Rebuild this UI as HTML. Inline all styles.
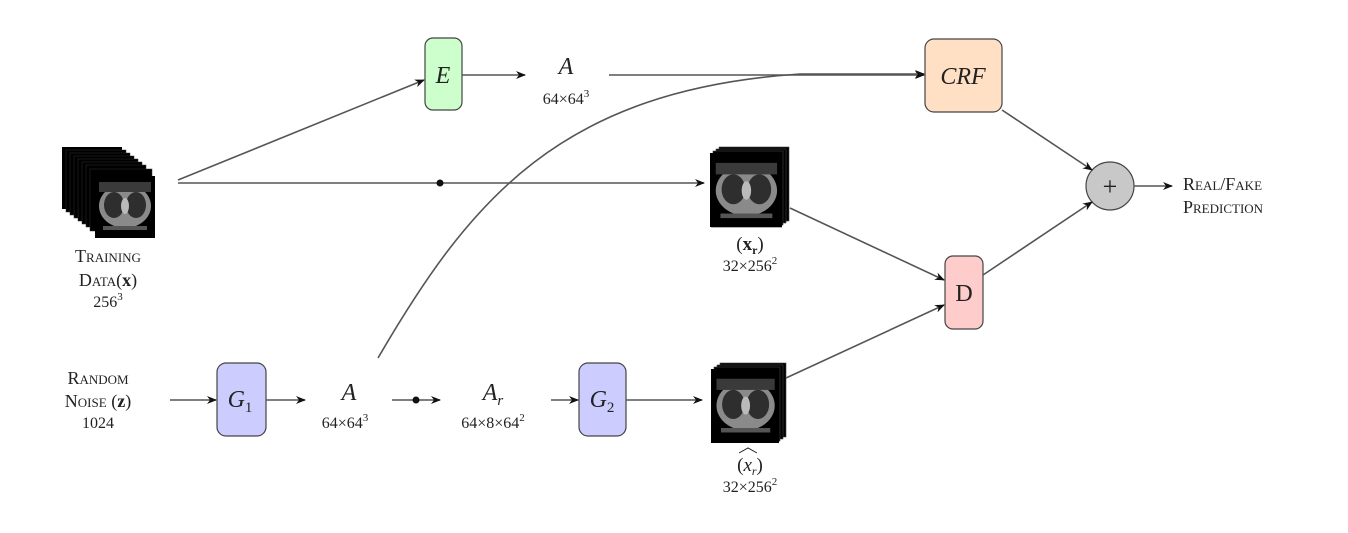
<!DOCTYPE html>
<html><head><meta charset="utf-8"><style>
html,body{margin:0;padding:0;background:#fff}
svg{display:block}
text{font-family:"Liberation Serif",serif;fill:#222}
.it{font-style:italic}
.sc{font-variant:small-caps}
</style></head><body>
<svg width="1348" height="533" viewBox="0 0 1348 533" xmlns="http://www.w3.org/2000/svg">
<defs>
<marker id="ar" markerWidth="10" markerHeight="10" refX="9" refY="5" orient="auto" markerUnits="userSpaceOnUse">
<path d="M0,1 L10,5 L0,9 L3,5 Z" fill="#111"/>
</marker>
<g id="ct">
<rect x="0" y="0" width="60" height="62" fill="#000"/>
<ellipse cx="30" cy="30" rx="26" ry="22" fill="#8a8a8a"/>
<rect x="4" y="6" width="52" height="10" fill="#3a3a3a"/>
<ellipse cx="19" cy="29" rx="10" ry="13" fill="#2e2e2e"/>
<ellipse cx="41" cy="29" rx="10" ry="13" fill="#2e2e2e"/>
<ellipse cx="30" cy="30" rx="4" ry="8" fill="#bbb"/>
<rect x="8" y="50" width="44" height="4" fill="#555"/>
</g>
</defs>

<!-- training stack -->
<g>
<rect x="62" y="147" width="60" height="62" fill="#000"/>
<rect x="66" y="150" width="60" height="62" fill="#000" stroke="#333" stroke-width="0.5"/>
<rect x="70" y="153" width="60" height="62" fill="#000" stroke="#333" stroke-width="0.5"/>
<rect x="74" y="156" width="60" height="62" fill="#000" stroke="#333" stroke-width="0.5"/>
<rect x="78" y="159" width="60" height="62" fill="#000" stroke="#333" stroke-width="0.5"/>
<rect x="82" y="162" width="60" height="62" fill="#000" stroke="#333" stroke-width="0.5"/>
<rect x="86" y="165" width="60" height="62" fill="#000" stroke="#333" stroke-width="0.5"/>
<rect x="90" y="169" width="62" height="62" fill="#000" stroke="#333" stroke-width="0.5"/>
<use href="#ct" x="95" y="176"/>
</g>
<text x="108" y="262" text-anchor="middle" font-size="18" class="sc">Training</text>
<text x="108" y="286" text-anchor="middle" font-size="18"><tspan class="sc">Data</tspan>(<tspan font-weight="bold">x</tspan>)</text>
<text x="108" y="307" text-anchor="middle" font-size="16">256<tspan font-size="11" dy="-7">3</tspan></text>

<!-- xr stack -->
<rect x="719" y="147" width="70" height="74" fill="#000" stroke="#444" stroke-width="0.6"/>
<rect x="716" y="149" width="70" height="74" fill="#000" stroke="#444" stroke-width="0.6"/>
<rect x="713" y="151" width="70" height="74" fill="#000" stroke="#444" stroke-width="0.6"/>
<rect x="710" y="153" width="72" height="74" fill="#000"/>
<use href="#ct" transform="translate(711,156) scale(1.18,1.15)"/>
<text x="750" y="250" text-anchor="middle" font-size="19">(<tspan font-weight="bold">x<tspan font-size="12" dy="4">r</tspan></tspan><tspan dy="-4">)</tspan></text>
<text x="750" y="271" text-anchor="middle" font-size="16">32×256<tspan font-size="11" dy="-7">2</tspan></text>

<!-- xr hat stack -->
<rect x="720" y="363" width="66" height="74" fill="#000" stroke="#444" stroke-width="0.6"/>
<rect x="717" y="365" width="66" height="74" fill="#000" stroke="#444" stroke-width="0.6"/>
<rect x="714" y="367" width="66" height="74" fill="#000" stroke="#444" stroke-width="0.6"/>
<rect x="711" y="369" width="68" height="74" fill="#000"/>
<use href="#ct" transform="translate(712,372) scale(1.12,1.12)"/>
<text x="750" y="471" text-anchor="middle" font-size="19">(<tspan class="it">x<tspan font-size="12" dy="4">r</tspan></tspan><tspan dy="-4">)</tspan></text>
<path d="M739 453 L748 448 L757 453" fill="none" stroke="#222" stroke-width="1"/>
<text x="750" y="492" text-anchor="middle" font-size="16">32×256<tspan font-size="11" dy="-7">2</tspan></text>

<!-- Boxes -->
<rect x="425" y="38" width="37" height="72" rx="8" fill="#ccffcc" stroke="#444" stroke-width="1.2"/>
<text x="443" y="83" text-anchor="middle" font-size="24" class="it">E</text>
<rect x="925" y="39" width="77" height="73" rx="9" fill="#ffe0c4" stroke="#444" stroke-width="1.2"/>
<text x="963" y="84" text-anchor="middle" font-size="24" class="it">CRF</text>
<rect x="945" y="256" width="38" height="73" rx="8" fill="#ffcccc" stroke="#444" stroke-width="1.2"/>
<text x="964" y="301" text-anchor="middle" font-size="24">D</text>
<rect x="217" y="363" width="49" height="73" rx="9" fill="#ccccff" stroke="#444" stroke-width="1.2"/>
<text x="240" y="407" text-anchor="middle" font-size="24" class="it">G<tspan font-size="15" font-style="normal" dy="5">1</tspan></text>
<rect x="579" y="363" width="47" height="73" rx="9" fill="#ccccff" stroke="#444" stroke-width="1.2"/>
<text x="602" y="407" text-anchor="middle" font-size="24" class="it">G<tspan font-size="15" font-style="normal" dy="5">2</tspan></text>
<circle cx="1110" cy="186" r="24" fill="#c8c8c8" stroke="#444" stroke-width="1.2"/>
<text x="1110" y="195" text-anchor="middle" font-size="26">+</text>

<!-- Labels -->
<text x="566" y="74" text-anchor="middle" font-size="24" class="it">A</text>
<text x="566" y="104" text-anchor="middle" font-size="16">64×64<tspan font-size="11" dy="-7">3</tspan></text>
<text x="349" y="400" text-anchor="middle" font-size="24" class="it">A</text>
<text x="345" y="428" text-anchor="middle" font-size="16">64×64<tspan font-size="11" dy="-7">3</tspan></text>
<text x="493" y="400" text-anchor="middle" font-size="24" class="it">A<tspan font-size="15" dy="5">r</tspan></text>
<text x="493" y="428" text-anchor="middle" font-size="16">64×8×64<tspan font-size="11" dy="-7">2</tspan></text>
<text x="98" y="384" text-anchor="middle" font-size="18" class="sc">Random</text>
<text x="98" y="407" text-anchor="middle" font-size="18"><tspan class="sc">Noise</tspan> (<tspan font-weight="bold">z</tspan>)</text>
<text x="98" y="428" text-anchor="middle" font-size="16">1024</text>
<text x="1183" y="190" font-size="18" class="sc">Real/Fake</text>
<text x="1183" y="213" font-size="18" class="sc">Prediction</text>

<!-- Connectors -->
<g stroke="#555" stroke-width="1.6" fill="none">
<line x1="178" y1="180" x2="424" y2="80" marker-end="url(#ar)"/>
<line x1="178" y1="183" x2="704" y2="183" marker-end="url(#ar)"/>
<line x1="462" y1="75" x2="525" y2="75" marker-end="url(#ar)"/>
<line x1="609" y1="75" x2="924" y2="75" marker-end="url(#ar)"/>
<path d="M378 358 C 470 200, 560 90, 800 74 L924 74" marker-end="url(#ar)"/>
<line x1="1002" y1="110" x2="1092" y2="170" marker-end="url(#ar)"/>
<line x1="983" y1="275" x2="1092" y2="202" marker-end="url(#ar)"/>
<line x1="1134" y1="186" x2="1172" y2="186" marker-end="url(#ar)"/>
<line x1="790" y1="208" x2="944" y2="280" marker-end="url(#ar)"/>
<line x1="786" y1="378" x2="944" y2="305" marker-end="url(#ar)"/>
<line x1="170" y1="400" x2="216" y2="400" marker-end="url(#ar)"/>
<line x1="266" y1="400" x2="305" y2="400" marker-end="url(#ar)"/>
<line x1="392" y1="400" x2="440" y2="400" marker-end="url(#ar)"/>
<line x1="551" y1="400" x2="578" y2="400" marker-end="url(#ar)"/>
<line x1="626" y1="400" x2="702" y2="400" marker-end="url(#ar)"/>
</g>
<circle cx="440" cy="183" r="3.5" fill="#111"/>
<circle cx="416" cy="400" r="3.5" fill="#111"/>
</svg>
</body></html>
